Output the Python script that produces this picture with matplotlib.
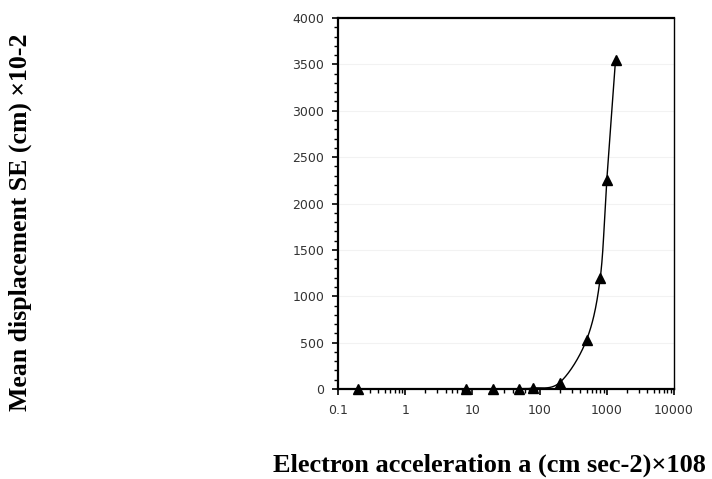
import numpy as np
import matplotlib
matplotlib.use("Agg")
import matplotlib.pyplot as plt
from matplotlib.ticker import LogLocator, MultipleLocator, FixedLocator, FixedFormatter

# Electron acceleration (cm sec-2) x 10^8 and mean displacement SE (cm) x 10^-2
acceleration = [0.2, 8, 20, 50, 80, 200, 500, 800, 1000, 1350]
displacement = [0, 0, 0, 5, 10, 70, 530, 1200, 2250, 3550]

x_ticks = [0.1, 1, 10, 100, 1000, 10000]
x_tick_labels = ["0.1", "1", "10", "100", "1000", "10000"]
y_ticks = [0, 500, 1000, 1500, 2000, 2500, 3000, 3500, 4000]


def smooth_curve(xs, ys, sx, sy, n=40):
    """Bezier smoothing ('smoothed line') computed in on-screen proportions:
    log-x scaled by sx per decade, y scaled by sy per unit."""
    lx = np.log10(np.asarray(xs, float)) * sx
    y = np.asarray(ys, float) * sy
    px = np.concatenate([[2 * lx[0] - lx[1]], lx, [2 * lx[-1] - lx[-2]]])
    py = np.concatenate([[2 * y[0] - y[1]], y, [2 * y[-1] - y[-2]]])
    out_x, out_y = [], []
    t = np.linspace(0, 1, n)
    for i in range(1, len(px) - 2):
        p0, p1, p2, p3 = (np.array([px[j], py[j]]) for j in range(i - 1, i + 3))
        m1 = (p2 - p0) / 6.0
        m2 = (p3 - p1) / 6.0
        b0, b1, b2, b3 = p1, p1 + m1, p2 - m2, p2
        pts = ((1 - t) ** 3)[:, None] * b0 + (3 * (1 - t) ** 2 * t)[:, None] * b1 \
            + (3 * (1 - t) * t ** 2)[:, None] * b2 + (t ** 3)[:, None] * b3
        out_x.append(pts[:, 0])
        out_y.append(pts[:, 1])
    return 10 ** (np.concatenate(out_x) / sx), np.concatenate(out_y) / sy


fig = plt.figure(figsize=(7.12, 4.79), dpi=100)
ax = fig.add_axes([0.4747, 0.1879, 0.4719, 0.7745])

ax_w_px = 0.4719 * 712
ax_h_px = 0.7745 * 479
cx, cy = smooth_curve(acceleration, displacement, ax_w_px / 5.0, ax_h_px / 4000.0)
ax.plot(cx, cy, color="black", lw=1.0, zorder=2)
ax.plot(acceleration, displacement, linestyle="none", marker="^",
        color="black", markersize=7, zorder=3, clip_on=False)

ax.set_xscale("log")
ax.set_xlim(0.1, 10000)
ax.set_ylim(0, 4000)

ax.xaxis.set_major_locator(FixedLocator(x_ticks))
ax.xaxis.set_major_formatter(FixedFormatter(x_tick_labels))
ax.xaxis.set_minor_locator(LogLocator(base=10, subs=np.arange(2, 10)))
ax.yaxis.set_major_locator(FixedLocator(y_ticks))
ax.yaxis.set_minor_locator(MultipleLocator(100))

ax.grid(axis="y", which="major", color="#f2f2f2", lw=0.8, zorder=0)
ax.set_axisbelow(True)

for side in ax.spines.values():
    side.set_color("black")
ax.spines["left"].set_linewidth(1.6)
ax.spines["bottom"].set_linewidth(1.6)
ax.spines["top"].set_linewidth(1.6)
ax.spines["right"].set_linewidth(1.0)

ax.tick_params(axis="both", which="major", direction="out", length=4, width=1.2,
               color="black", labelsize=9, labelcolor="#333333")
ax.tick_params(axis="both", which="minor", direction="out", length=3, width=1.0,
               color="black")
ax.tick_params(axis="x", which="major", pad=7)
ax.tick_params(axis="y", which="major", pad=6)

fig.text(0.687, 0.004, "Electron acceleration a (cm sec-2)\u00d7108",
         family="Liberation Serif", weight="bold", fontsize=19,
         ha="center", va="bottom")
fig.text(0.028, 0.535, "Mean displacement SE (cm) \u00d710-2",
         family="Liberation Serif", weight="bold", fontsize=18.5,
         ha="center", va="center", rotation=90)

fig.savefig("out.png", dpi=100)
